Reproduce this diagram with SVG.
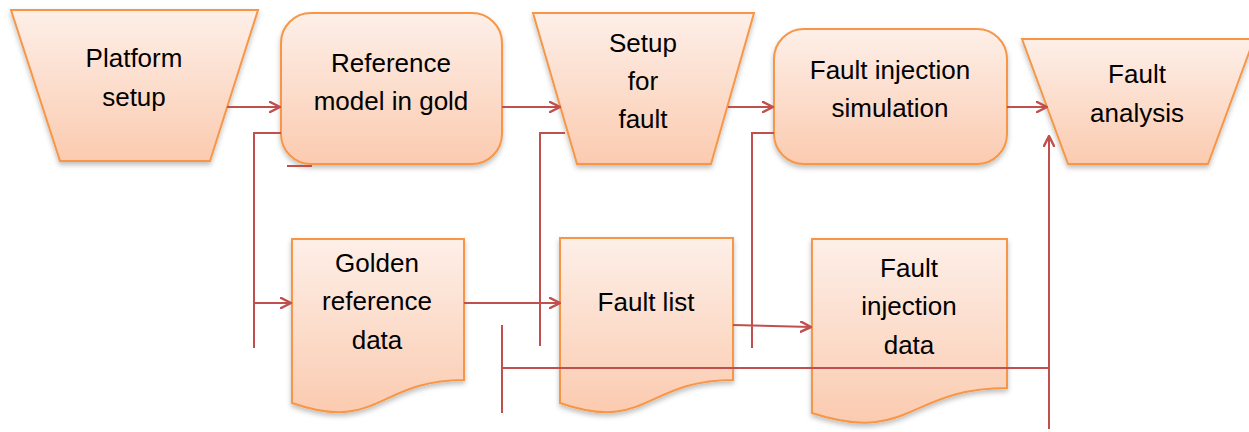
<svg xmlns="http://www.w3.org/2000/svg" width="1249" height="432" viewBox="0 0 1249 432">
  <defs>
    <linearGradient id="peach" x1="0" y1="0" x2="0" y2="1">
      <stop offset="0" stop-color="#fdefe8"/>
      <stop offset="1" stop-color="#fbcbb0"/>
    </linearGradient>
    <filter id="shadow" x="-10%" y="-10%" width="120%" height="130%">
      <feDropShadow dx="0" dy="3" stdDeviation="2.5" flood-color="#000" flood-opacity="0.25"/>
    </filter>
    <marker id="arrow" viewBox="0 0 12 12" refX="11" refY="6" markerWidth="12" markerHeight="12" markerUnits="userSpaceOnUse" orient="auto">
      <path d="M1,1 L11,6 L1,11" fill="none" stroke="#c0504d" stroke-width="2.5" stroke-linecap="round" stroke-linejoin="round"/>
    </marker>
    <style>
      .shape { fill: url(#peach); stroke: #f79646; stroke-width: 2; filter: url(#shadow); }
      .label { font-family: "Liberation Sans", Arial, sans-serif; font-size: 26px; fill: #000; text-anchor: middle; }
      .conn { fill: none; stroke: #c0504d; stroke-width: 2; }
    </style>
  </defs>

  <g id="platform-setup">
    <path class="shape" d="M11,10 H258 L210,161 H60 Z"/>
    <text class="label" x="134" y="67">Platform</text>
    <text class="label" x="134" y="106">setup</text>
  </g>

  <g id="reference-model">
    <rect class="shape" x="281" y="13" width="221" height="151" rx="30"/>
    <text class="label" x="391" y="72">Reference</text>
    <text class="label" x="391" y="110">model in gold</text>
  </g>

  <g id="setup-for-fault">
    <path class="shape" d="M533,13 H754 L711,164 H577 Z"/>
    <text class="label" x="643" y="52">Setup</text>
    <text class="label" x="643" y="90">for</text>
    <text class="label" x="643" y="128">fault</text>
  </g>

  <g id="fault-injection-simulation">
    <rect class="shape" x="774" y="29" width="233" height="135" rx="30"/>
    <text class="label" x="890" y="79">Fault injection</text>
    <text class="label" x="890" y="117">simulation</text>
  </g>

  <g id="fault-analysis">
    <path class="shape" d="M1022,39 H1254 L1208,164 H1068 Z"/>
    <text class="label" x="1137" y="83">Fault</text>
    <text class="label" x="1137" y="122">analysis</text>
  </g>

  <g id="golden-reference-data">
    <path class="shape" d="M292,239 H464 V380 C378,380 378,433 292,403 Z"/>
    <text class="label" x="377" y="272">Golden</text>
    <text class="label" x="377" y="310">reference</text>
    <text class="label" x="377" y="349">data</text>
  </g>

  <g id="fault-list">
    <path class="shape" d="M560,238 H733 V380 C646,380 646,433 560,403 Z"/>
    <text class="label" x="646" y="311">Fault list</text>
  </g>

  <g id="fault-injection-data">
    <path class="shape" d="M812,239 H1007 V388 C909,388 909,445 812,413 Z"/>
    <text class="label" x="909" y="277">Fault</text>
    <text class="label" x="909" y="315">injection</text>
    <text class="label" x="909" y="354">data</text>
  </g>

  <!-- connectors, drawn above the shapes -->
  <g id="connectors">
    <path class="conn" d="M227,107 H280" marker-end="url(#arrow)"/>
    <path class="conn" d="M281,133 H254 V348"/>
    <path class="conn" d="M254,303 H291" marker-end="url(#arrow)"/>
    <path class="conn" d="M287,166 H312"/>
    <path class="conn" d="M502,107 H560" marker-end="url(#arrow)"/>
    <path class="conn" d="M565,133 H540 V346"/>
    <path class="conn" d="M464,303 H560" marker-end="url(#arrow)"/>
    <path class="conn" d="M502,325 V413"/>
    <path class="conn" d="M502,368 H1049"/>
    <path class="conn" d="M1049,429 V136" marker-end="url(#arrow)"/>
    <path class="conn" d="M728,107 H773" marker-end="url(#arrow)"/>
    <path class="conn" d="M774,133 H752 V348"/>
    <path class="conn" d="M733,325 L811,327" marker-end="url(#arrow)"/>
    <path class="conn" d="M1007,107 H1047" marker-end="url(#arrow)"/>
  </g>
</svg>
